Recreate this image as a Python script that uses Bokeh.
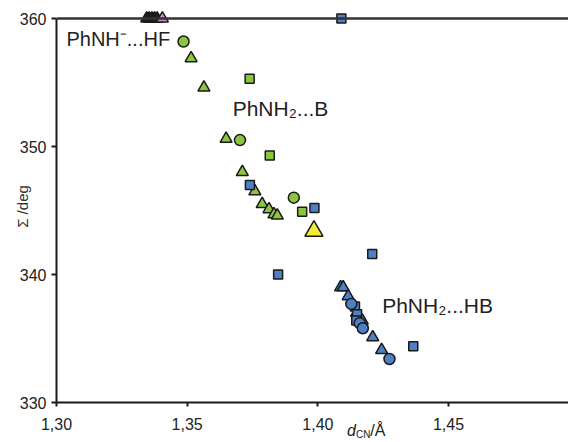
from bokeh.plotting import figure
from bokeh.layouts import column
from bokeh.models import (Label, Span, FixedTicker, CustomJSTickFormatter,
                          ColumnDataSource, Range1d, Div)
from bokeh.embed import file_html
from bokeh.resources import INLINE

# ---- data ----
X_TICKS = [1.30, 1.35, 1.40, 1.45]
Y_TICKS = [330, 340, 350, 360]

black_tri_x = [1.3345, 1.3355, 1.3365, 1.3375, 1.3385]
black_tri_y = [360.0, 360.0, 360.0, 360.0, 360.0]
pink_tri_x = [1.3405]
pink_tri_y = [360.0]

green_circ_x = [1.3486, 1.3702, 1.3908]
green_circ_y = [358.2, 350.5, 346.0]
green_tri_x = [1.3515, 1.3564, 1.3649, 1.3711, 1.3759, 1.3787, 1.3813, 1.3832, 1.3845]
green_tri_y = [356.9, 354.6, 350.6, 348.0, 346.5, 345.5, 345.1, 344.7, 344.6]
green_sq_x = [1.3739, 1.3816, 1.3940]
green_sq_y = [355.3, 349.3, 344.9]

yellow_tri_x = [1.3985]
yellow_tri_y = [343.4]

blue_sq_x = [1.4090, 1.3740, 1.3987, 1.4208, 1.3848, 1.4142, 1.4150, 1.4147, 1.4365]
blue_sq_y = [360.0, 347.0, 345.2, 341.6, 340.0, 337.5, 336.9, 336.4, 334.4]
blue_tri_x = [1.4087, 1.4097, 1.4116, 1.4148, 1.4170, 1.4210, 1.4244]
blue_tri_y = [339.0, 339.0, 338.3, 337.0, 336.4, 335.1, 334.1]
blue_circ_x = [1.4128, 1.4160, 1.4172, 1.4274]
blue_circ_y = [337.7, 336.2, 335.8, 333.4]

GREEN = "#8cc63f"
BLUE = "#4f7fc4"
YELLOW = "#f4ea3a"
PINK = "#d08cc0"
BLACK = "#222222"
FONT = "Liberation Sans"

p = figure(width=568, height=442,
           x_range=Range1d(1.30, 1.4959), y_range=Range1d(330, 360.625),
           output_backend="svg", toolbar_location=None,
           min_border_left=56, min_border_right=0,
           min_border_top=10, min_border_bottom=40)
p.outline_line_color = None
p.grid.visible = False
p.background_fill_color = "white"
p.border_fill_color = "white"

for ax in (p.xaxis[0], p.yaxis[0]):
    ax.axis_line_width = 2
    ax.axis_line_color = "#1a1a1a"
    ax.major_tick_line_width = 2
    ax.major_tick_line_color = "#1a1a1a"
    ax.major_tick_in = 0
    ax.minor_tick_line_color = None
    ax.major_label_text_font = FONT
    ax.major_label_text_font_size = "16px"
    ax.major_label_text_color = "#222222"

p.xaxis.ticker = FixedTicker(ticks=X_TICKS)
p.xaxis.formatter = CustomJSTickFormatter(code="return tick.toFixed(2).replace('.', ',');")
p.xaxis.major_tick_out = 4
p.xaxis.major_label_standoff = 11

p.yaxis.ticker = FixedTicker(ticks=Y_TICKS)
p.yaxis.bounds = (330, 360)
p.yaxis.major_tick_out = 5
p.yaxis.major_label_standoff = 5
p.yaxis.axis_label = "\u03a3 /deg"
p.yaxis.axis_label_standoff = -14
p.yaxis.axis_label_text_font = FONT
p.yaxis.axis_label_text_font_size = "15px"
p.yaxis.axis_label_text_font_style = "normal"
p.yaxis.axis_label_text_color = "#333333"

# top frame line
p.add_layout(Span(location=360, dimension="width", line_color="#333333", line_width=2.5))

def pts(xs, ys, marker, color, size):
    src = ColumnDataSource(dict(x=xs, y=ys))
    p.scatter("x", "y", source=src, marker=marker, size=size,
              fill_color=color, line_color="#1a1a1a", line_width=1.5)

pts(black_tri_x, black_tri_y, "triangle", BLACK, 12)
pts(pink_tri_x, pink_tri_y, "triangle", PINK, 12)
pts(green_sq_x, green_sq_y, "square", GREEN, 9)
pts(green_tri_x, green_tri_y, "triangle", GREEN, 12)
pts(green_circ_x, green_circ_y, "circle", GREEN, 11)
pts(yellow_tri_x, yellow_tri_y, "triangle", YELLOW, 18)
pts(blue_tri_x, blue_tri_y, "triangle", BLUE, 12)
pts(blue_sq_x, blue_sq_y, "square", BLUE, 9)
pts(blue_circ_x, blue_circ_y, "circle", BLUE, 11)

# in-plot annotations
for txt, x, y, fs in [("PhNH\u207b...HF", 1.3038, 358.36, "20px"),
                      ("PhNH\u2082...B", 1.3674, 352.97, "21px"),
                      ("PhNH\u2082...HB", 1.4246, 337.6, "21px")]:
    p.add_layout(Label(x=x, y=y, text=txt, text_font=FONT, text_font_size=fs,
                       text_color="#222222", text_baseline="middle", text_align="left"))

# x title d_CN/Å, overlaid on the bottom strip of the chart (right of the 1,40 tick label)
STRIP_H = 26
x_title = Div(
    text=('<div style="position:relative;width:568px;height:26px;'
          'font-family:\'Liberation Sans\',Arial,sans-serif;color:#222222;">'
          '<span style="position:absolute;left:347px;top:7px;font-size:16px;'
          'line-height:16px;white-space:nowrap;"><i>d</i>'
          '<span style="font-size:10px;vertical-align:-2px;">CN</span>/\u00c5</span></div>'),
    width=568, height=STRIP_H, margin=(-STRIP_H, 0, 0, 0))

layout = column(p, x_title, spacing=0)
open("out.html", "w").write(file_html(layout, INLINE))
